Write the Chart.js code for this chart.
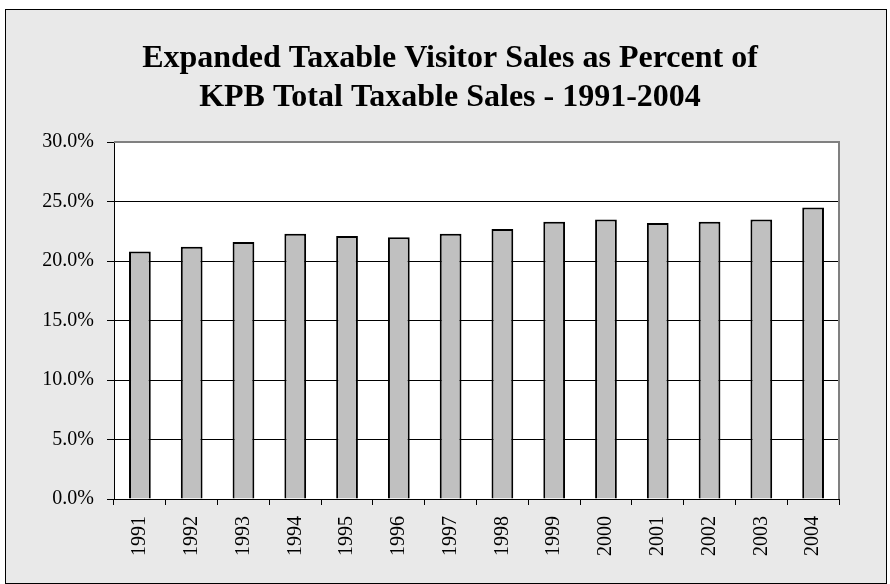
<!DOCTYPE html>
<html>
<head>
<meta charset="utf-8">
<script src="https://cdn.jsdelivr.net/npm/chart.js@4/dist/chart.umd.min.js"></script>
<style>
  html, body { margin: 0; padding: 0; background: #fff; }
  canvas { display: block; }
</style>
</head>
<body>
<canvas id="visitorChart" width="890" height="584"></canvas>
<script>
// Data
const years = ['1991', '1992', '1993', '1994', '1995', '1996', '1997',
               '1998', '1999', '2000', '2001', '2002', '2003', '2004'];
const visitorShare = [20.8, 21.2, 21.6, 22.3, 22.1, 22.0, 22.3,
                      22.7, 23.3, 23.5, 23.2, 23.3, 23.5, 24.5];
const titleLines = ['Expanded Taxable Visitor Sales as Percent of',
                    'KPB Total Taxable Sales - 1991-2004'];

// Gray frame behind everything, white plot area, gray top/right edges
const framePlugin = {
  id: 'frame',
  beforeDraw(chart) {
    const ctx = chart.ctx;
    const a = chart.chartArea;
    ctx.save();
    ctx.fillStyle = '#ffffff';
    ctx.fillRect(0, 0, chart.width, chart.height);
    ctx.fillStyle = '#e9e9e9';
    ctx.fillRect(5, 9, 882, 575);
    ctx.strokeStyle = '#000';
    ctx.lineWidth = 1;
    ctx.strokeRect(5.5, 9.5, 881, 574);
    ctx.fillStyle = '#ffffff';
    ctx.fillRect(a.left, a.top, a.right - a.left, a.bottom - a.top);
    ctx.restore();
  },
  afterDatasetsDraw(chart) {
    const ctx = chart.ctx;
    const a = chart.chartArea;
    ctx.save();
    ctx.strokeStyle = '#808080';
    ctx.lineWidth = 2;
    ctx.beginPath();
    ctx.moveTo(a.left, a.top);
    ctx.lineTo(a.right, a.top);
    ctx.lineTo(a.right, a.bottom);
    ctx.stroke();
    ctx.restore();
  }
};

new Chart(document.getElementById('visitorChart'), {
  type: 'bar',
  data: {
    labels: years,
    datasets: [{
      data: visitorShare,
      backgroundColor: '#c0c0c0',
      borderColor: '#000',
      borderWidth: 2,
      categoryPercentage: 1,
      barPercentage: 0.42
    }]
  },
  options: {
    responsive: false,
    animation: false,
    layout: { padding: { left: 10, right: 0, top: 0, bottom: 0 } },
    plugins: {
      legend: { display: false },
      tooltip: { enabled: false },
      title: {
        display: true,
        text: titleLines,
        color: '#000',
        font: { family: 'Liberation Serif', size: 32, weight: 'bold', lineHeight: 1.22 },
        padding: { top: 39, bottom: 25 }
      }
    },
    scales: {
      x: {
        afterFit(scale) { scale.height = 85; },
        grid: {
          offset: true,
          drawOnChartArea: false,
          color: '#000',
          tickLength: 6
        },
        border: { color: '#000', width: 1 },
        ticks: {
          color: '#000',
          font: { family: 'Liberation Serif', size: 20 },
          minRotation: 90,
          maxRotation: 90,
          padding: 11
        }
      },
      y: {
        min: 0,
        max: 30,
        afterFit(scale) { scale.width = 104; },
        grid: {
          color: ctx => ctx.tick && ctx.tick.value === 30 ? 'rgba(0,0,0,0)' : '#000',
          tickColor: '#000',
          tickLength: 7
        },
        border: { color: '#000', width: 1 },
        ticks: {
          stepSize: 5,
          color: '#000',
          padding: 13,
          font: { family: 'Liberation Serif', size: 20 },
          callback: v => v.toFixed(1) + '%'
        }
      },
      // empty right axis, only keeps the right margin inside the frame
      yRight: {
        position: 'right',
        afterFit(scale) { scale.width = 51; },
        grid: { display: false },
        border: { display: false },
        ticks: { display: false }
      }
    }
  },
  plugins: [framePlugin]
});
</script>
</body>
</html>
